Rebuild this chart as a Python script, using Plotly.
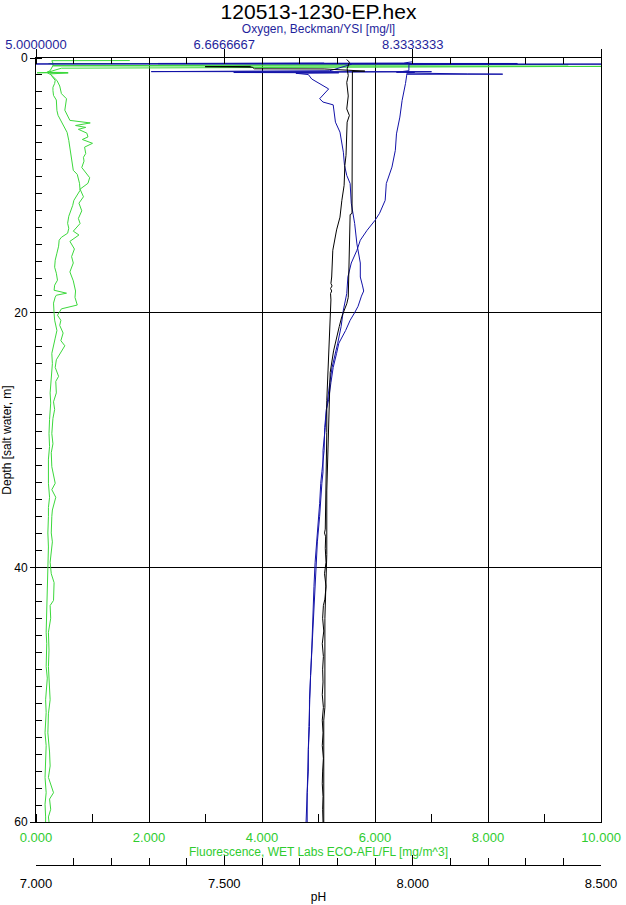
import plotly.graph_objects as go

# ---------------- data ----------------
TITLE = "120513-1230-EP.hex"

# Fluorescence, line A
fl_a_depth = [0.20, 0.21, 0.40, 0.62, 0.66, 0.74, 0.80, 1.00, 1.12, 1.14,
              1.15, 1.17, 1.19, 1.30, 1.50, 1.76, 2.00, 2.30, 2.55, 2.94,
              3.30, 3.57, 4.12, 4.50, 4.75, 5.29, 5.84, 6.47, 7.10, 7.80,
              8.43, 8.82, 9.14, 9.37, 9.84, 10.39, 10.78, 11.18, 11.57, 11.96,
              12.43, 12.98, 13.37, 13.76, 14.08, 14.31, 14.78, 15.33, 15.88, 16.43,
              16.90, 17.45, 17.84, 18.24, 18.47, 18.63, 18.78, 19.25, 19.65, 20.04,
              20.59, 21.40, 22.00, 22.60, 23.20, 24.00, 24.80, 25.50, 26.30, 27.10,
              27.60, 28.40, 29.50, 30.50, 31.50, 32.10, 33.40, 34.50, 35.30, 36.00,
              37.30, 38.40, 40.00, 41.00, 42.50, 43.50, 45.10, 46.00, 47.80, 48.70,
              50.40, 51.40, 53.00, 54.00, 55.60, 56.50, 57.70, 58.60, 59.60, 60.00]
fl_a_val = [1.66, 0.28, 0.30, 0.30, 10.0, 2.03, 0.45, 0.30, 0.22, 0.56,
            0.20, 0.24, 0.21, 0.26, 0.30, 0.34, 0.33, 0.30, 0.30, 0.31,
            0.36, 0.36, 0.37, 0.39, 0.42, 0.49, 0.55, 0.58, 0.60, 0.62,
            0.65, 0.66, 0.73, 0.74, 0.77, 0.78, 0.72, 0.67, 0.65, 0.62,
            0.58, 0.56, 0.58, 0.56, 0.45, 0.41, 0.40, 0.37, 0.34, 0.33,
            0.36, 0.38, 0.33, 0.32, 0.54, 0.36, 0.34, 0.31, 0.31, 0.32,
            0.33, 0.37, 0.34, 0.31, 0.28, 0.29, 0.28, 0.27, 0.25, 0.26,
            0.25, 0.24, 0.23, 0.24, 0.22, 0.22, 0.22, 0.24, 0.22, 0.22,
            0.21, 0.22, 0.21, 0.21, 0.20, 0.20, 0.18, 0.19, 0.18, 0.20,
            0.17, 0.18, 0.16, 0.18, 0.17, 0.16, 0.18, 0.16, 0.17, 0.17]

# Fluorescence, line B
fl_b_depth = [0.43, 0.431, 0.45, 0.53, 0.55, 0.60, 1.00, 1.10, 1.13, 1.16,
              1.17, 1.25, 1.76, 2.20, 2.80, 3.20, 4.10, 4.90, 5.10, 5.30,
              5.45, 5.60, 5.90, 6.20, 6.40, 6.70, 7.00, 7.50, 7.80, 8.10,
              8.60, 9.00, 9.40, 9.84, 10.30, 10.90, 11.40, 12.00, 12.60, 13.00,
              13.60, 13.90, 14.40, 15.00, 15.60, 16.10, 16.80, 17.50, 18.30, 18.80,
              19.40, 19.70, 20.20, 20.60, 21.00, 21.60, 22.20, 22.60, 23.20, 23.70,
              24.30, 25.00, 25.40, 26.30, 27.00, 27.60, 28.30, 29.50, 30.30, 31.00,
              32.10, 33.40, 33.90, 34.50, 35.50, 36.00, 37.30, 38.00, 39.60, 40.50,
              41.20, 42.60, 43.00, 44.00, 45.10, 46.50, 47.80, 49.00, 50.40, 51.50,
              53.00, 54.50, 55.60, 56.50, 57.70, 58.20, 59.00, 59.60, 60.00]
fl_b_val = [0.22, 8.51, 2.16, 9.42, 7.15, 0.30, 0.25, 0.20, 0.23, 0.02,
            0.57, 0.25, 0.37, 0.42, 0.45, 0.54, 0.51, 0.60, 0.96, 0.70,
            0.88, 0.75, 0.90, 0.92, 0.82, 1.00, 0.86, 0.88, 0.84, 0.85,
            0.81, 0.88, 0.95, 0.92, 0.78, 0.84, 0.76, 0.81, 0.75, 0.78,
            0.66, 0.76, 0.60, 0.68, 0.63, 0.66, 0.60, 0.66, 0.70, 0.69,
            0.73, 0.45, 0.38, 0.44, 0.42, 0.48, 0.44, 0.51, 0.42, 0.36,
            0.34, 0.40, 0.35, 0.36, 0.31, 0.33, 0.30, 0.28, 0.30, 0.27,
            0.28, 0.34, 0.28, 0.35, 0.29, 0.28, 0.27, 0.29, 0.25, 0.27,
            0.32, 0.31, 0.25, 0.26, 0.22, 0.23, 0.22, 0.24, 0.25, 0.22,
            0.21, 0.24, 0.25, 0.22, 0.31, 0.24, 0.26, 0.22, 0.23]

# Oxygen, line 1
ox_1_depth = [0.40, 0.43, 0.431, 0.47, 1.00, 1.07, 1.075, 1.12, 1.14, 1.16,
              1.20, 1.30, 1.65, 2.16, 2.43, 3.20, 3.46, 3.68, 5.04, 5.82,
              7.40, 8.43, 9.22, 9.86, 11.40, 13.00, 14.60, 16.10, 17.20, 17.90,
              18.30, 18.70, 19.50, 20.00, 20.60, 21.40, 22.40, 23.20, 24.30, 25.50,
              26.80, 27.60, 29.00, 30.80, 32.50, 33.40, 35.00, 36.00, 38.00, 39.60,
              41.50, 43.40, 45.00, 46.50, 48.50, 50.40, 52.50, 54.30, 56.00, 57.70,
              60.00]
ox_1_val = [7.55, 6.08, 9.26, 7.80, 7.60, 6.02, 8.50, 7.42, 6.75, 7.68,
            7.30, 7.41, 7.44, 7.53, 7.59, 7.51, 7.54, 7.63, 7.65, 7.69,
            7.72, 7.73, 7.75, 7.78, 7.79, 7.82, 7.84, 7.87, 7.87, 7.89,
            7.90, 7.88, 7.85, 7.82, 7.78, 7.74, 7.68, 7.66, 7.63, 7.61,
            7.59, 7.57, 7.56, 7.54, 7.54, 7.53, 7.52, 7.51, 7.49, 7.48,
            7.47, 7.46, 7.45, 7.44, 7.43, 7.42, 7.42, 7.41, 7.41, 7.40,
            7.39]

# Oxygen, line 2
ox_2_depth = [0.30, 0.40, 0.47, 0.48, 0.52, 1.00, 1.12, 1.14, 1.18, 1.25,
              1.27, 1.28, 1.40, 2.00, 3.33, 4.64, 5.96, 7.25, 8.57, 9.86,
              11.18, 12.20, 12.75, 13.53, 14.31, 15.10, 16.10, 17.20, 18.50, 19.80,
              21.10, 22.40, 23.20, 24.30, 25.50, 26.80, 27.60, 29.00, 30.80, 32.50,
              33.40, 35.00, 36.00, 38.00, 39.60, 41.50, 43.40, 45.00, 46.50, 48.50,
              50.40, 52.50, 54.30, 56.00, 57.70, 60.00]
ox_2_val = [8.33, 8.25, 5.00, 10.00, 8.30, 8.30, 8.19, 8.35, 8.28, 8.82,
            9.13, 8.28, 8.28, 8.27, 8.24, 8.22, 8.19, 8.18, 8.15, 8.10,
            8.09, 8.04, 8.00, 7.93, 7.87, 7.84, 7.79, 7.76, 7.75, 7.72,
            7.70, 7.67, 7.65, 7.62, 7.60, 7.58, 7.57, 7.555, 7.55, 7.53,
            7.52, 7.51, 7.50, 7.485, 7.47, 7.46, 7.45, 7.445, 7.44, 7.43,
            7.42, 7.415, 7.41, 7.405, 7.40, 7.40]

# pH, line 1
ph_1_depth = [0.12, 0.33, 0.85, 1.38, 1.92, 2.98, 4.00, 4.51, 5.04, 6.35,
              7.65, 8.43, 10.00, 11.18, 12.50, 13.50, 14.80, 15.10, 17.20, 17.70,
              17.90, 18.10, 18.30, 18.50, 19.00, 19.80, 20.60, 21.40, 22.40, 23.20,
              24.30, 26.90, 29.40, 32.10, 36.00, 37.00, 37.30, 37.60, 38.50, 39.60,
              40.50, 41.50, 42.50, 43.00, 44.00, 45.00, 46.00, 47.00, 48.00, 49.00,
              50.00, 51.00, 52.00, 53.00, 54.00, 55.00, 56.00, 57.00, 58.00, 59.00,
              60.00]
ph_1_val = [7.825, 7.832, 7.826, 7.829, 7.825, 7.829, 7.825, 7.832, 7.826, 7.825,
            7.823, 7.820, 7.818, 7.812, 7.807, 7.798, 7.789, 7.788, 7.785, 7.783,
            7.786, 7.782, 7.785, 7.782, 7.783, 7.782, 7.781, 7.780, 7.779, 7.778,
            7.776, 7.772, 7.772, 7.771, 7.770, 7.768, 7.766, 7.769, 7.768, 7.770,
            7.766, 7.770, 7.767, 7.763, 7.761, 7.764, 7.760, 7.763, 7.761, 7.762,
            7.760, 7.763, 7.760, 7.762, 7.760, 7.763, 7.761, 7.760, 7.762, 7.761,
            7.762]

# pH, line 2
ph_2_depth = [0.66, 0.68, 0.72, 0.85, 0.86, 1.00, 1.03, 1.05, 3.00, 6.00,
              9.00, 12.20, 12.30, 16.40, 18.80, 19.30, 20.30, 21.10, 22.00, 23.00,
              24.70, 27.00, 29.50, 32.60, 34.00, 39.00, 40.50, 44.00, 51.00, 52.00,
              60.00]
ph_2_val = [7.570, 7.449, 7.574, 7.580, 7.765, 7.835, 7.873, 7.840, 7.840, 7.840,
            7.839, 7.839, 7.834, 7.831, 7.829, 7.825, 7.812, 7.805, 7.798, 7.790,
            7.781, 7.779, 7.776, 7.775, 7.772, 7.772, 7.770, 7.767, 7.767, 7.764,
            7.764]

DEPTH_TICKS = [0, 20, 40, 60]
FLUOR_TICKS = [0, 2, 4, 6, 8, 10]
OXY_TICKS = [5.0, 6.6666667, 8.3333333, 10.0]
OXY_TICKTEXT = ["5.0000000", "6.6666667", "8.3333333", "10.000000"]
PH_TICKS = [7.0, 7.5, 8.0, 8.5]

# ---------------- styling ----------------
FONT = "Liberation Sans, Arial, sans-serif"
GREEN = "#3cd83c"
GREEN_TXT = "#2fcc2f"
BLUE = "#1212a8"
BLUE_TXT = "#1f1f9c"
BLACK = "#000000"
TICK_FS = 13

W, H = 626, 905
MT, MB, ML, MR = 58, 10, 36, 25
plot_h = H - MT - MB
ydom0 = (H - MB - 822) / plot_h
ph_pos = (H - MB - 865) / plot_h

fig = go.Figure()


def add(xv, yv, color, xaxis):
    fig.add_trace(go.Scatter(x=xv, y=yv, mode="lines", xaxis=xaxis, yaxis="y",
                             line=dict(color=color, width=1), showlegend=False,
                             hoverinfo="skip"))


add(fl_a_val, fl_a_depth, GREEN, "x")
add(fl_b_val, fl_b_depth, GREEN, "x")
add(ox_1_val, ox_1_depth, BLUE, "x2")
add(ox_2_val, ox_2_depth, BLUE, "x2")
add(ph_1_val, ph_1_depth, BLACK, "x3")
add(ph_2_val, ph_2_depth, BLACK, "x3")

fig.update_layout(
    template="none",
    width=W, height=H,
    margin=dict(l=ML, r=MR, t=MT, b=MB, autoexpand=False),
    paper_bgcolor="white", plot_bgcolor="white",
    font=dict(family=FONT, size=12, color="black"),
    showlegend=False,
    title=dict(text=TITLE, x=0.5, xref="paper", xanchor="center",
               y=1 - 12 / H, yref="container", yanchor="middle",
               font=dict(family=FONT, size=21, color="black")),
    yaxis=dict(domain=[ydom0, 1], range=[60, 0], tickmode="array", tickvals=DEPTH_TICKS,
               ticks="outside", ticklen=5, tickcolor="black", tickwidth=1,
               showline=True, linecolor="black", linewidth=1, mirror=True,
               showgrid=True, gridcolor="black", gridwidth=1, zeroline=False,
               automargin=False, tickfont=dict(size=12, color="black"),
               minor=dict(tickmode="linear", tick0=0, dtick=20 / 15, ticks="inside",
                          ticklen=6, tickcolor="black", tickwidth=1, showgrid=False),
               title=dict(text="Depth [salt water, m]", standoff=4,
                          font=dict(size=12, color="black"))),
    xaxis=dict(domain=[0, 1], anchor="y", side="bottom", range=[0, 10],
               tickmode="array", tickvals=FLUOR_TICKS, tickformat=".3f",
               ticks="", showline=True, linecolor="black", linewidth=1, mirror=True,
               showgrid=True, gridcolor="black", gridwidth=1, zeroline=False,
               automargin=False, ticklabelstandoff=3,
               tickfont=dict(size=TICK_FS, color=GREEN_TXT),
               minor=dict(tickmode="linear", tick0=0, dtick=1, ticks="inside",
                          ticklen=8, tickcolor="black", tickwidth=1, showgrid=False),
               title=dict(text="Fluorescence, WET Labs ECO-AFL/FL [mg/m^3]", standoff=2,
                          font=dict(size=12, color=GREEN_TXT))),
    xaxis2=dict(overlaying="x", anchor="y", side="top", range=[5, 10],
                tickmode="array", tickvals=OXY_TICKS, ticktext=OXY_TICKTEXT,
                ticks="outside", ticklen=8, tickcolor="black", tickwidth=1,
                showline=True, linecolor="black", linewidth=1,
                showgrid=False, zeroline=False, automargin=False,
                ticklabelstandoff=-5,
                tickfont=dict(size=TICK_FS, color=BLUE_TXT),
                minor=dict(tickmode="linear", tick0=5, dtick=1 / 3, ticks="inside",
                           ticklen=6, tickcolor="black", tickwidth=1, showgrid=False),
                title=dict(text="Oxygen, Beckman/YSI [mg/l]", standoff=0,
                           font=dict(size=12, color=BLUE_TXT))),
    xaxis3=dict(overlaying="x", anchor="free", position=ph_pos, side="bottom",
                range=[7, 8.5], tickmode="array", tickvals=PH_TICKS, tickformat=".3f",
                ticks="inside", ticklen=10, tickcolor="black", tickwidth=1,
                showline=True, linecolor="black", linewidth=1,
                showgrid=False, zeroline=False, automargin=False,
                ticklabelstandoff=6,
                tickfont=dict(size=TICK_FS, color="black"),
                minor=dict(tickmode="linear", tick0=7, dtick=0.1, ticks="inside",
                           ticklen=7, tickcolor="black", tickwidth=1, showgrid=False),
                title=dict(text="pH", standoff=3, font=dict(size=12, color="black"))),
)

fig.write_html(
    "out.html",
    include_plotlyjs=True,
    config={"displayModeBar": False},
    post_script="document.body.style.margin='0';document.body.style.padding='0';",
)
